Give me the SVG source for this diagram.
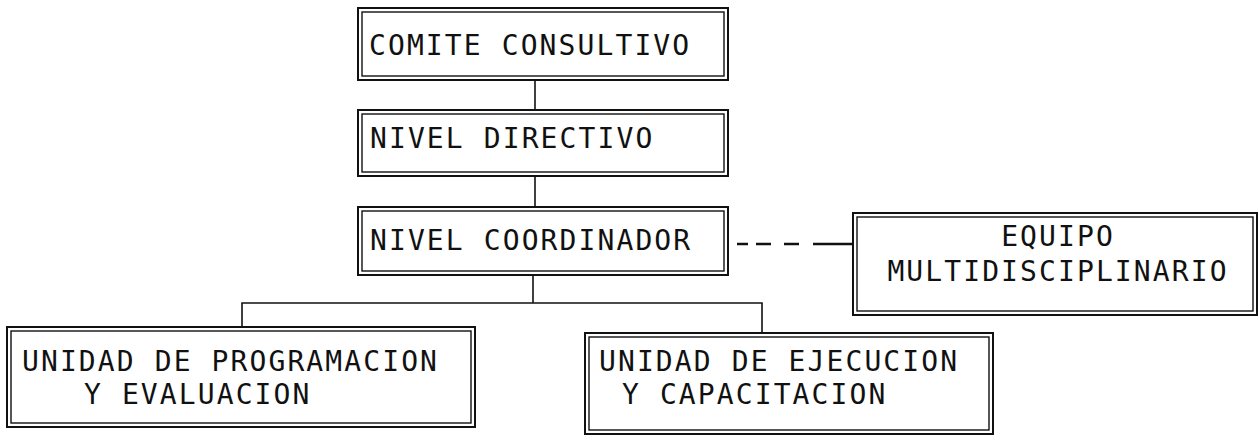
<svg xmlns="http://www.w3.org/2000/svg" width="1259" height="438" viewBox="0 0 1259 438">
<style>
.o{fill:none;stroke:#111;stroke-width:2}
.i{fill:none;stroke:#111;stroke-width:1.4}
.c{fill:none;stroke:#111;stroke-width:1.6}
.d{fill:none;stroke:#111;stroke-width:2.4}
text{font-family:"DejaVu Sans Mono","Liberation Mono",monospace;font-size:28px;fill:#111;letter-spacing:2.1px}
</style>
<rect width="1259" height="438" fill="#fff"/>
<g id="connectors">
<line class="c" x1="535" y1="80" x2="535" y2="110"/>
<line class="c" x1="535" y1="176" x2="535" y2="207"/>
<line class="c" x1="533" y1="275" x2="533" y2="303"/>
<polyline class="c" points="242,327 242,303 762,303 762,333"/>
<path class="d" d="M737 244H748M756 244H771M784 244H799M813 244H852"/>
</g>
<g id="comite">
<rect class="o" x="358" y="8" width="370" height="72"/>
<rect class="i" x="362" y="12" width="362" height="64"/>
<text x="369" y="55">COMITE CONSULTIVO</text>
</g>
<g id="directivo">
<rect class="o" x="358" y="110" width="370" height="66"/>
<rect class="i" x="362" y="114" width="362" height="58"/>
<text x="370" y="148">NIVEL DIRECTIVO</text>
</g>
<g id="coordinador">
<rect class="o" x="358" y="207" width="370" height="68"/>
<rect class="i" x="362" y="211" width="362" height="60"/>
<text x="370" y="250">NIVEL COORDINADOR</text>
</g>
<g id="equipo">
<rect class="o" x="853" y="213" width="404" height="102"/>
<rect class="i" x="857" y="217" width="396" height="94"/>
<text x="1058" y="246" text-anchor="middle">EQUIPO</text>
<text x="1058" y="281" text-anchor="middle">MULTIDISCIPLINARIO</text>
</g>
<g id="programacion">
<rect class="o" x="7" y="327" width="468" height="100"/>
<rect class="i" x="11" y="331" width="460" height="92"/>
<text x="22" y="371">UNIDAD DE PROGRAMACION</text>
<text x="84" y="404">Y EVALUACION</text>
</g>
<g id="ejecucion">
<rect class="o" x="585" y="333" width="408" height="101"/>
<rect class="i" x="589" y="337" width="400" height="93"/>
<text x="599" y="371">UNIDAD DE EJECUCION</text>
<text x="622" y="404">Y CAPACITACION</text>
</g>
</svg>
